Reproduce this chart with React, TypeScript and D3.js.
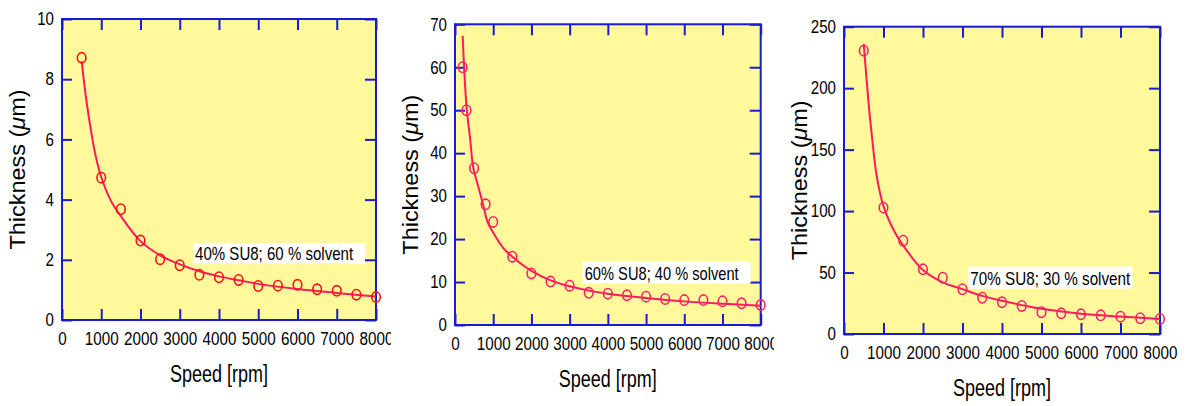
import React, { useEffect, useRef } from "react";
import * as d3 from "d3";

// measured spin points (rpm, µm)
const speeds40 = [500, 1000, 1500, 2000, 2500, 3000, 3500, 4000, 4500, 5000, 5500, 6000, 6500, 7000, 7500, 8000];
const thick40 = [8.71, 4.73, 3.68, 2.64, 2.02, 1.82, 1.5, 1.42, 1.33, 1.13, 1.14, 1.17, 1.02, 0.97, 0.84, 0.76];
const fitSpeeds40 = [500, 600, 700, 850, 1000, 1250, 1500, 2000, 2500, 3000, 3500, 4000, 4500, 5000, 6000, 7000, 8000];
const fit40 = [8.6, 7.5, 6.6, 5.5, 4.75, 3.95, 3.45, 2.62, 2.15, 1.85, 1.62, 1.45, 1.32, 1.2, 1.03, 0.9, 0.78];

const speeds60 = [200, 300, 500, 800, 1000, 1500, 2000, 2500, 3000, 3500, 4000, 4500, 5000, 5500, 6000, 6500, 7000, 7500, 8000];
const thick60 = [60, 50, 36.5, 28.1, 24, 15.9, 12, 10.1, 9.15, 7.5, 7.3, 6.9, 6.6, 6.05, 5.8, 5.8, 5.5, 5.05, 4.65];
const fitSpeeds60 = [200, 300, 400, 480, 600, 740, 850, 1000, 1265, 1500, 2000, 2500, 3000, 3500, 4000, 5000, 6000, 7000, 8000];
const fit60 = [67.3, 51, 43, 36.5, 32.5, 27.9, 24, 21.5, 17.9, 15.9, 12.6, 10.4, 9.0, 8.0, 7.3, 6.3, 5.5, 4.95, 4.5];

const speeds70 = [500, 1000, 1500, 2000, 2500, 3000, 3500, 4000, 4500, 5000, 5500, 6000, 6500, 7000, 7500, 8000];
const thick70 = [230.5, 102.8, 75.9, 52.6, 45.8, 36.4, 29.5, 25.8, 22.8, 17.7, 16.8, 16.0, 15.2, 14.1, 12.8, 12.2];
const fitSpeeds70 = [500, 616, 700, 830, 1000, 1250, 1435, 2000, 2500, 3000, 3500, 4000, 4500, 5000, 6000, 7000, 8000];
const fit70 = [236, 190, 163, 128, 104, 85, 75, 52, 42, 36.5, 31, 27, 23.5, 20.5, 16.5, 14.2, 12.2];

const xTicks = [0, 1000, 2000, 3000, 4000, 5000, 6000, 7000, 8000];
const yTicks40 = [0, 2, 4, 6, 8, 10];
const yTicks60 = [0, 10, 20, 30, 40, 50, 60, 70];
const yTicks70 = [0, 50, 100, 150, 200, 250];

const labels = ["40% SU8; 60 % solvent", "60% SU8; 40 % solvent", "70% SU8; 30 % solvent"];

const panels = [
  {
    box: [62, 376, 19, 320], clip: [0, 391], yMax: 10, yTicks: yTicks40,
    speeds: speeds40, thick: thick40, fitX: fitSpeeds40, fitY: fit40,
    label: labels[0], note: [3340, 7720, 2.55, 1.88], noteW: 158, marker: "#ff1010",
  },
  {
    box: [455, 760.7, 24.3, 325], clip: [391, 774], yMax: 70, yTicks: yTicks60,
    speeds: speeds60, thick: thick60, fitX: fitSpeeds60, fitY: fit60,
    label: labels[1], note: [3342, 7738, 14.9, 9.7], noteW: 154, marker: "#ff2266",
  },
  {
    box: [844, 1160, 26.7, 334], clip: [774, 1195], yMax: 250, yTicks: yTicks70,
    speeds: speeds70, thick: thick70, fitX: fitSpeeds70, fitY: fit70,
    label: labels[2], note: [3147, 7299, 54.8, 36.9], noteW: 160, marker: "#ff2266",
  },
];

const BLUE = "#1a1ad2";
const FONT = "'Liberation Sans', Arial, Helvetica, sans-serif";

export default function App() {
  const svgRef = useRef<SVGSVGElement>(null);

  useEffect(() => {
    const svg = d3.select(svgRef.current);
    svg.selectAll("*").remove();

    panels.forEach((p, i) => {
      const [l, r, t, b] = p.box;
      const x = d3.scaleLinear().domain([0, 8000]).range([l, r]);
      const y = d3.scaleLinear().domain([0, p.yMax]).range([b, t]);

      svg.append("clipPath").attr("id", `clip${i}`)
        .append("rect").attr("x", p.clip[0]).attr("y", 0)
        .attr("width", p.clip[1] - p.clip[0]).attr("height", 406);

      const g = svg.append("g").attr("clip-path", `url(#clip${i})`)
        .style("font-family", FONT);

      // plot background
      g.append("rect").attr("x", l).attr("y", t)
        .attr("width", r - l).attr("height", b - t)
        .attr("fill", "#fff99b");

      // inward ticks on all four sides
      const styleAxis = (sel) => {
        sel.select(".domain").remove();
        sel.selectAll("line").attr("stroke", BLUE).attr("stroke-width", 2);
      };
      g.append("g").attr("transform", `translate(0,${b})`)
        .call(d3.axisBottom(x).tickValues(xTicks).tickSize(-11).tickPadding(12).tickFormat(d3.format("d")))
        .call(styleAxis)
        .selectAll("text")
        .attr("fill", "#000").style("font-size", "19px").style("font-family", FONT)
        .attr("transform", "scale(0.8,1)");
      g.append("g").attr("transform", `translate(0,${t})`)
        .call(d3.axisTop(x).tickValues(xTicks).tickSize(-11).tickFormat(() => ""))
        .call(styleAxis);
      g.append("g").attr("transform", `translate(${l},0)`)
        .call(d3.axisLeft(y).tickValues(p.yTicks).tickSize(-10).tickPadding(8))
        .call(styleAxis)
        .selectAll("text")
        .attr("fill", "#000").style("font-size", "18px").style("font-family", FONT)
        .attr("x", -8 / 0.84)
        .attr("transform", "scale(0.84,1)");
      g.append("g").attr("transform", `translate(${r},0)`)
        .call(d3.axisRight(y).tickValues(p.yTicks).tickSize(-11).tickFormat(() => ""))
        .call(styleAxis);

      // frame
      g.append("rect").attr("x", l).attr("y", t)
        .attr("width", r - l).attr("height", b - t)
        .attr("fill", "none").attr("stroke", BLUE).attr("stroke-width", 2);

      // annotation box
      const [n0, n1, nTop, nBot] = p.note;
      g.append("rect").attr("x", x(n0)).attr("y", y(nTop))
        .attr("width", x(n1) - x(n0)).attr("height", y(nBot) - y(nTop))
        .attr("fill", "#fff");
      g.append("text").attr("x", x(n0) + 2).attr("y", y(nBot) - 3.5)
        .attr("textLength", p.noteW).attr("lengthAdjust", "spacingAndGlyphs")
        .style("font-size", "19px").text(p.label);

      // fitted curve
      const fit = p.fitX.map((s, k) => [s, p.fitY[k]]);
      const line = d3.line().x((d) => x(d[0])).y((d) => y(d[1]))
        .curve(d3.curveCatmullRom.alpha(0.5));
      g.append("path").datum(fit).attr("d", line)
        .attr("fill", "none").attr("stroke", "#ff1a5e").attr("stroke-width", 2);

      // data markers
      g.selectAll(".pt").data(p.speeds.map((s, k) => [s, p.thick[k]]))
        .join("ellipse").attr("class", "pt")
        .attr("cx", (d) => x(d[0])).attr("cy", (d) => y(d[1]))
        .attr("rx", 4.3).attr("ry", 5.2)
        .attr("fill", "none").attr("stroke", p.marker).attr("stroke-width", 1.6);

      // axis titles
      g.append("text").attr("x", (l + r) / 2).attr("y", b + 61.5)
        .attr("text-anchor", "middle")
        .attr("textLength", 98).attr("lengthAdjust", "spacingAndGlyphs")
        .style("font-size", "23px").text("Speed [rpm]");

      const yl = g.append("text")
        .attr("transform", `translate(${l - 37},${(t + b) / 2}) rotate(-90)`)
        .attr("text-anchor", "middle")
        .attr("textLength", 160).attr("lengthAdjust", "spacingAndGlyphs")
        .style("font-size", "22px");
      yl.append("tspan").text("Thickness (");
      yl.append("tspan").style("font-style", "italic").text("\u03bc");
      yl.append("tspan").text("m)");
    });
  }, []);

  return (
    <svg
      ref={svgRef}
      width={1195}
      height={406}
      style={{ position: "absolute", left: 0, top: 0, background: "#fff" }}
    />
  );
}
